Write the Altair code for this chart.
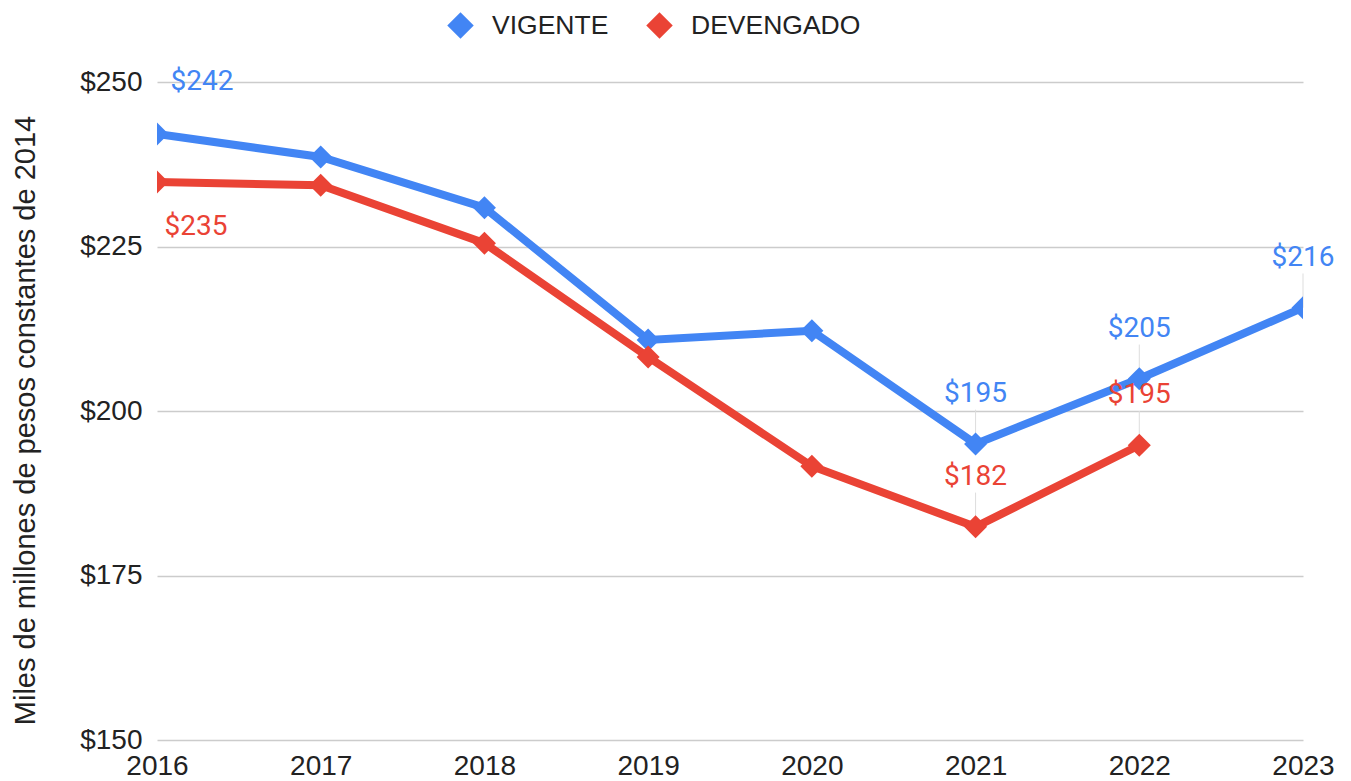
import altair as alt
import pandas as pd

# Budget series (thousand millions of constant 2014 pesos)
years = [2016, 2017, 2018, 2019, 2020, 2021, 2022, 2023]
vigente = [242.1, 238.6, 230.9, 210.8, 212.2, 195.0, 204.9, 215.7]
devengado = [234.8, 234.3, 225.5, 208.2, 191.6, 182.4, 194.8]
series = ["VIGENTE", "DEVENGADO"]
colors = ["#4285F4", "#EA4335"]
labeled_years = {"VIGENTE": [2016, 2021, 2022, 2023], "DEVENGADO": [2016, 2021, 2022]}
y_ticks = [150, 175, 200, 225, 250]

rows = []
for name, vals in zip(series, [vigente, devengado]):
    for yr, v in zip(years, vals):
        rows.append({"anio": yr, "serie": name, "valor": v,
                     "etiqueta": yr in labeled_years[name]})
df = pd.DataFrame(rows)

AXIS_FONT = "Liberation Sans"
TEXT_COLOR = "#222222"

x = alt.X(
    "anio:Q",
    scale=alt.Scale(domain=[2016, 2023], nice=False, zero=False),
    axis=alt.Axis(values=years, format="d", title=None, grid=False, ticks=False,
                  domain=False, labelPadding=12, labelFontSize=28, labelFlush=False,
                  labelFont=AXIS_FONT, labelColor=TEXT_COLOR),
)
y = alt.Y(
    "valor:Q",
    scale=alt.Scale(domain=[150, 250], nice=False, zero=False),
    axis=alt.Axis(values=y_ticks, format="$,.0f",
                  title="Miles de millones de pesos constantes de 2014",
                  grid=True, gridColor="#cccccc", gridWidth=1.5,
                  ticks=False, domain=False, labelPadding=15,
                  labelFontSize=28, labelFont=AXIS_FONT, labelColor=TEXT_COLOR,
                  titleFont=AXIS_FONT, titleFontSize=29, titleFontWeight="normal",
                  titleColor=TEXT_COLOR, titleAngle=270, titleX=-132, titleY=338,
                  titleAlign="center", titleBaseline="middle"),
)
color_scale = alt.Scale(domain=series, range=colors)
color_nolegend = alt.Color("serie:N", scale=color_scale, legend=None)

base = alt.Chart(df)

leaders = base.transform_filter(
    "datum.etiqueta && datum.anio > 2016"
).transform_calculate(
    tope="datum.valor + 5.2"
).mark_rule(color="#dddddd", strokeWidth=1).encode(
    x=x, y=y, y2="tope:Q"
)

lines = base.mark_line(strokeWidth=8, clip=True).encode(
    x=x, y=y, color=color_nolegend, order="anio:Q"
)

points = base.mark_point(shape="diamond", filled=True, size=530, opacity=1,
                         clip=True).encode(
    x=x, y=y,
    color=alt.Color(
        "serie:N", scale=color_scale,
        legend=alt.Legend(title=None, orient="none", direction="horizontal",
                          legendX=290, legendY=-70, symbolType="diamond",
                          symbolSize=700, symbolStrokeWidth=0,
                          labelFontSize=26.5, labelFont=AXIS_FONT,
                          labelColor=TEXT_COLOR, labelOffset=18,
                          labelLimit=400, columnPadding=37),
    ),
)

text_enc = dict(x=x, y=y, color=color_nolegend,
                text=alt.Text("valor:Q", format="$,.0f"))

labels = base.transform_filter(
    "datum.etiqueta && datum.anio > 2016"
).mark_text(font="Roboto", fontSize=28, dy=-50, baseline="middle").encode(**text_enc)

label_v16 = base.transform_filter(
    "datum.anio == 2016 && datum.serie == 'VIGENTE'"
).mark_text(font="Roboto", fontSize=28, dx=45, dy=-52, baseline="middle").encode(**text_enc)

label_d16 = base.transform_filter(
    "datum.anio == 2016 && datum.serie == 'DEVENGADO'"
).mark_text(font="Roboto", fontSize=28, dx=39, dy=45, baseline="middle").encode(**text_enc)

chart = alt.layer(leaders, lines, points, labels, label_v16, label_d16).resolve_legend(
    color="independent"
).properties(
    width=1146,
    height=658,
    autosize=alt.AutoSizeParams(type="none"),
    padding={"left": 157, "top": 82, "right": 48, "bottom": 41},
    background="white",
).configure_view(stroke=None)

chart.save("out.html", embed_options={"renderer": "svg", "actions": False})
